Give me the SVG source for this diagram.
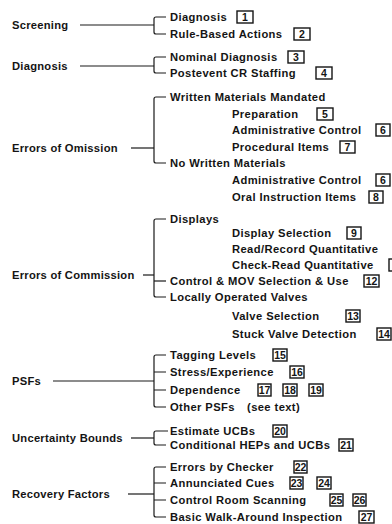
<svg xmlns="http://www.w3.org/2000/svg" width="392" height="524" viewBox="0 0 392 524">
  <style>
    text { font-family: "Liberation Sans", Arial, sans-serif; font-weight: bold; fill: #141414; }
    .lbl { font-size: 11.2px; letter-spacing: 0.25px; }
    .item { font-size: 11.2px; letter-spacing: 0.4px; }
    .num { font-size: 10.5px; text-anchor: middle; }
    .box { fill: none; stroke: #141414; stroke-width: 1.4; }
    .ln { fill: none; stroke: #1a1a1a; stroke-width: 1.2; }
  </style>

  <!-- connectors: label leads, brackets and branch ticks -->
  <g id="connectors">
    <!-- Screening -->
    <path class="ln" d="M80 25H154"/>
    <path class="ln" d="M166 17H156Q154 17 154 19V32Q154 34 156 34H166"/>
    <!-- Diagnosis -->
    <path class="ln" d="M80 66H154"/>
    <path class="ln" d="M166 57H156Q154 57 154 59V71Q154 73 156 73H166"/>
    <!-- Errors of Omission -->
    <path class="ln" d="M131 148H154"/>
    <path class="ln" d="M166 97H156Q154 97 154 99V161Q154 163 156 163H166"/>
    <!-- Errors of Commission -->
    <path class="ln" d="M143 275H154"/>
    <path class="ln" d="M166 219H156Q154 219 154 221V295Q154 297 156 297H166"/>
    <path class="ln" d="M154 281H166"/>
    <!-- PSFs -->
    <path class="ln" d="M53 381H154"/>
    <path class="ln" d="M166 355H156Q154 355 154 357V405Q154 407 156 407H166"/>
    <path class="ln" d="M154 372H166M154 390H166"/>
    <!-- Uncertainty Bounds -->
    <path class="ln" d="M131 438H154"/>
    <path class="ln" d="M168 431H156Q154 431 154 433V443Q154 445 156 445H166"/>
    <!-- Recovery Factors -->
    <path class="ln" d="M128 494H154"/>
    <path class="ln" d="M166 467H156Q154 467 154 469V515Q154 517 156 517H166"/>
    <path class="ln" d="M154 483H166M154 500H166"/>
  </g>

  <!-- category labels -->
  <g id="screening"><text class="lbl" x="12" y="29">Screening</text></g>
  <g id="diagnosis"><text class="lbl" x="12" y="70">Diagnosis</text></g>
  <g id="errors-of-omission"><text class="lbl" x="12" y="152">Errors of Omission</text></g>
  <g id="errors-of-commission"><text class="lbl" x="12" y="279">Errors of Commission</text></g>
  <g id="psfs"><text class="lbl" x="12" y="385">PSFs</text></g>
  <g id="uncertainty-bounds"><text class="lbl" x="12" y="442">Uncertainty Bounds</text></g>
  <g id="recovery-factors"><text class="lbl" x="12" y="498">Recovery Factors</text></g>

  <!-- Screening items -->
  <g id="scr-diagnosis"><text class="item" x="170" y="21">Diagnosis</text>
    <rect class="box" x="237" y="11" width="16" height="12"/><text class="num" x="245" y="21">1</text></g>
  <g id="scr-rule-based"><text class="item" x="170" y="38">Rule-Based Actions</text>
    <rect class="box" x="294" y="28" width="16" height="12"/><text class="num" x="302" y="38">2</text></g>

  <!-- Diagnosis items -->
  <g id="dia-nominal"><text class="item" x="170" y="61">Nominal Diagnosis</text>
    <rect class="box" x="288" y="51" width="16" height="12"/><text class="num" x="296" y="61">3</text></g>
  <g id="dia-postevent"><text class="item" x="170" y="77">Postevent CR Staffing</text>
    <rect class="box" x="316" y="67" width="16" height="12"/><text class="num" x="324" y="77">4</text></g>

  <!-- Errors of Omission items -->
  <g id="om-written"><text class="item" x="170" y="101">Written Materials Mandated</text></g>
  <g id="om-preparation"><text class="item" x="232" y="118">Preparation</text>
    <rect class="box" x="317" y="108" width="16" height="12"/><text class="num" x="325" y="118">5</text></g>
  <g id="om-admin-1"><text class="item" x="232" y="134">Administrative Control</text>
    <rect class="box" x="376" y="124" width="14" height="12"/><text class="num" x="383" y="134">6</text></g>
  <g id="om-procedural"><text class="item" x="232" y="151">Procedural Items</text>
    <rect class="box" x="340" y="141" width="15" height="12"/><text class="num" x="347.5" y="151">7</text></g>
  <g id="om-no-written"><text class="item" x="170" y="167">No Written Materials</text></g>
  <g id="om-admin-2"><text class="item" x="232" y="184">Administrative Control</text>
    <rect class="box" x="376" y="174" width="14" height="12"/><text class="num" x="383" y="184">6</text></g>
  <g id="om-oral"><text class="item" x="232" y="201">Oral Instruction Items</text>
    <rect class="box" x="369" y="191" width="14" height="12"/><text class="num" x="376" y="201">8</text></g>

  <!-- Errors of Commission items -->
  <g id="com-displays"><text class="item" x="170" y="223">Displays</text></g>
  <g id="com-display-selection"><text class="item" x="232" y="237">Display Selection</text>
    <rect class="box" x="347" y="227" width="14" height="12"/><text class="num" x="354" y="237">9</text></g>
  <g id="com-read-record"><text class="item" x="232" y="253">Read/Record Quantitative</text></g>
  <g id="com-check-read"><text class="item" x="232" y="269">Check-Read Quantitative</text>
    <rect class="box" x="389" y="259" width="14" height="12"/></g>
  <g id="com-control-mov"><text class="item" x="170" y="285">Control &amp; MOV Selection &amp; Use</text>
    <rect class="box" x="364" y="275" width="15" height="12"/><text class="num" x="371.5" y="285">12</text></g>
  <g id="com-local-valves"><text class="item" x="170" y="301">Locally Operated Valves</text></g>
  <g id="com-valve-selection"><text class="item" x="232" y="320">Valve Selection</text>
    <rect class="box" x="346" y="310" width="14" height="12"/><text class="num" x="353" y="320">13</text></g>
  <g id="com-stuck-valve"><text class="item" x="232" y="338">Stuck Valve Detection</text>
    <rect class="box" x="377" y="328" width="14" height="12"/><text class="num" x="384" y="338">14</text></g>

  <!-- PSF items -->
  <g id="psf-tagging"><text class="item" x="170" y="359">Tagging Levels</text>
    <rect class="box" x="273" y="349" width="14" height="12"/><text class="num" x="280" y="359">15</text></g>
  <g id="psf-stress"><text class="item" x="170" y="376">Stress/Experience</text>
    <rect class="box" x="290" y="366" width="14" height="12"/><text class="num" x="297" y="376">16</text></g>
  <g id="psf-dependence"><text class="item" x="170" y="394">Dependence</text>
    <rect class="box" x="258" y="384" width="13" height="12"/><text class="num" x="264.5" y="394">17</text>
    <rect class="box" x="283" y="384" width="14" height="12"/><text class="num" x="290" y="394">18</text>
    <rect class="box" x="309" y="384" width="14" height="12"/><text class="num" x="316" y="394">19</text></g>
  <g id="psf-other"><text class="item" x="170" y="411">Other PSFs<tspan x="247">(see text)</tspan></text></g>

  <!-- Uncertainty Bounds items -->
  <g id="ub-estimate"><text class="item" x="170" y="435">Estimate UCBs</text>
    <rect class="box" x="273" y="425" width="14" height="12"/><text class="num" x="280" y="435">20</text></g>
  <g id="ub-conditional"><text class="item" x="170" y="449">Conditional HEPs and UCBs</text>
    <rect class="box" x="339" y="439" width="14" height="12"/><text class="num" x="346" y="449">21</text></g>

  <!-- Recovery Factors items -->
  <g id="rf-checker"><text class="item" x="170" y="471">Errors by Checker</text>
    <rect class="box" x="294" y="461" width="13" height="12"/><text class="num" x="300.5" y="471">22</text></g>
  <g id="rf-annunciated"><text class="item" x="170" y="487">Annunciated Cues</text>
    <rect class="box" x="290" y="477" width="13" height="12"/><text class="num" x="296.5" y="487">23</text>
    <rect class="box" x="317" y="477" width="14" height="12"/><text class="num" x="324" y="487">24</text></g>
  <g id="rf-scanning"><text class="item" x="170" y="504">Control Room Scanning</text>
    <rect class="box" x="330" y="494" width="13" height="12"/><text class="num" x="336.5" y="504">25</text>
    <rect class="box" x="353" y="494" width="13" height="12"/><text class="num" x="359.5" y="504">26</text></g>
  <g id="rf-walkaround"><text class="item" x="170" y="521">Basic Walk-Around Inspection</text>
    <rect class="box" x="359" y="511" width="15" height="12"/><text class="num" x="366.5" y="521">27</text></g>
</svg>
